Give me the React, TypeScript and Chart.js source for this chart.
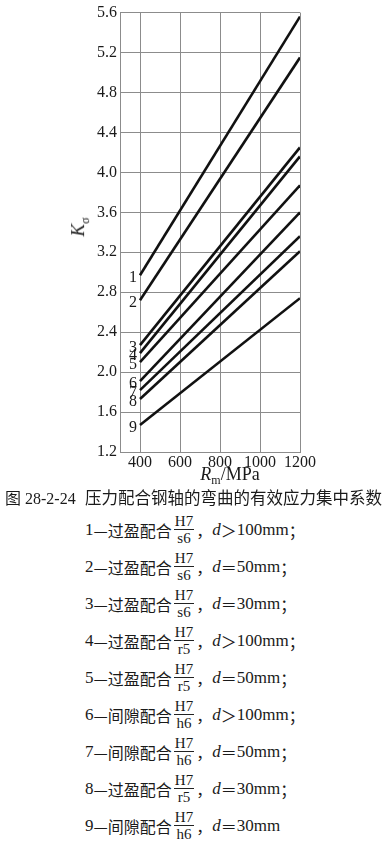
import React, { useEffect, useRef } from "react";
import { Chart, registerables } from "chart.js";

Chart.register(...registerables);

// ---- data ----
const strengths = [400, 1200]; // Rm / MPa
const curveLabels = ["1", "2", "3", "4", "5", "6", "7", "8", "9"];
const curve1 = [2.97, 5.56];
const curve2 = [2.72, 5.15];
const curve3 = [2.27, 4.25];
const curve4 = [2.19, 4.16];
const curve5 = [2.10, 3.87];
const curve6 = [1.91, 3.60];
const curve7 = [1.82, 3.36];
const curve8 = [1.73, 3.21];
const curve9 = [1.47, 2.74];
const curves = [curve1, curve2, curve3, curve4, curve5, curve6, curve7, curve8, curve9];

const xTicks = [400, 600, 800, 1000, 1200];
const yTicks = [1.2, 1.6, 2.0, 2.4, 2.8, 3.2, 3.6, 4.0, 4.4, 4.8, 5.2, 5.6];

const figureNo = "图 28-2-24";
const figureTitle = "压力配合钢轴的弯曲的有效应力集中系数";
const fitKinds = ["过盈配合", "过盈配合", "过盈配合", "过盈配合", "过盈配合", "间隙配合", "间隙配合", "过盈配合", "间隙配合"];
const holeTolerance = "H7";
const shaftTolerances = ["s6", "s6", "s6", "r5", "r5", "h6", "h6", "r5", "h6"];
const diameterRelations = ["＞", "＝", "＝", "＞", "＝", "＞", "＝", "＝", "＝"];
const diameters = [100, 50, 30, 100, 50, 100, 50, 30, 30];

const SERIF = '"Liberation Serif", "DejaVu Serif", serif';
const CJK = '"Liberation Serif", "Noto Sans CJK SC", serif';
const CJK_ONLY = '"Noto Sans CJK SC"';

const curveLabelPlugin = {
  id: "curveLabels",
  afterDatasetsDraw(chart: any) {
    const { ctx, scales } = chart;
    ctx.save();
    ctx.font = `16px ${SERIF}`;
    ctx.fillStyle = "#1a1a1a";
    ctx.textAlign = "right";
    ctx.textBaseline = "middle";
    curves.forEach((c, i) => {
      const x = scales.x.getPixelForValue(strengths[0]) - 3;
      const y = scales.y.getPixelForValue(c[0]) + 3;
      ctx.fillText(curveLabels[i], x, y);
    });
    ctx.restore();
  },
};

function ChartCanvas() {
  const ref = useRef<HTMLCanvasElement | null>(null);
  useEffect(() => {
    if (!ref.current) return;
    const chart = new Chart(ref.current, {
      type: "line",
      data: {
        datasets: curves.map((c, i) => ({
          label: curveLabels[i],
          data: strengths.map((x, j) => ({ x, y: c[j] })),
          borderColor: "#111",
          borderWidth: 2.6,
          pointRadius: 0,
          tension: 0,
          fill: false,
        })),
      },
      options: {
        animation: false,
        responsive: true,
        maintainAspectRatio: false,
        layout: { padding: { top: 12, right: 86, left: 0, bottom: 0 } },
        plugins: { legend: { display: false }, tooltip: { enabled: false }, title: { display: false } },
        scales: {
          x: {
            type: "linear",
            min: 300,
            max: 1200,
            afterBuildTicks: (s: any) => {
              s.ticks = xTicks.map((v) => ({ value: v }));
            },
            afterFit: (s: any) => {
              s.height = 38;
            },
            grid: { color: "#8c8c8c", lineWidth: 1, drawTicks: false },
            border: { display: true, color: "#8c8c8c", width: 1 },
            ticks: {
              font: { family: SERIF, size: 16 },
              color: "#1a1a1a",
              padding: 1,
              maxRotation: 0,
              autoSkip: false,
              callback: (v: any) => String(v),
            },
          },
          y: {
            type: "linear",
            min: 1.2,
            max: 5.6,
            afterBuildTicks: (s: any) => {
              s.ticks = yTicks.map((v) => ({ value: v }));
            },
            afterFit: (s: any) => {
              s.width = 120;
            },
            grid: { color: "#8c8c8c", lineWidth: 1, drawTicks: false },
            border: { display: true, color: "#8c8c8c", width: 1 },
            ticks: {
              font: { family: SERIF, size: 16 },
              color: "#1a1a1a",
              padding: 3,
              autoSkip: false,
              callback: (v: any) => Number(v).toFixed(1),
            },
          },
        },
      },
      plugins: [curveLabelPlugin],
    } as any);
    return () => chart.destroy();
  }, []);
  return <canvas ref={ref} />;
}

function Fraction({ top, bottom }: { top: string; bottom: string }) {
  return (
    <span
      style={{
        display: "inline-flex",
        flexDirection: "column",
        alignItems: "center",
        fontFamily: SERIF,
        fontSize: 15,
        lineHeight: "16px",
        margin: "0 2px",
      }}
    >
      <span style={{ padding: "0 1px" }}>{top}</span>
      <span style={{ width: "100%", borderTop: "1px solid #222" }} />
      <span>{bottom}</span>
    </span>
  );
}

export default function App() {
  return (
    <div
      style={{
        position: "absolute",
        left: 0,
        top: 0,
        width: 386,
        height: 850,
        background: "#fff",
        color: "#1a1a1a",
        overflow: "hidden",
      }}
    >
      <div style={{ position: "absolute", left: 0, top: 0, width: 386, height: 490 }}>
        <ChartCanvas />
      </div>
      {/* y axis title */}
      <div
        style={{
          position: "absolute",
          left: 80,
          top: 227,
          transform: "translate(-50%, -50%) rotate(-90deg)",
          fontFamily: SERIF,
          fontSize: 19,
          whiteSpace: "nowrap",
        }}
      >
        <i>K</i>
        <sub style={{ fontSize: 12 }}>σ</sub>
      </div>
      {/* x axis title */}
      <div
        style={{
          position: "absolute",
          left: 230,
          top: 476,
          transform: "translate(-50%, -50%)",
          fontFamily: SERIF,
          fontSize: 18,
          whiteSpace: "nowrap",
        }}
      >
        <i>R</i>
        <sub style={{ fontSize: 12 }}>m</sub>/MPa
      </div>
      {/* caption */}
      <div
        style={{
          position: "absolute",
          left: 5,
          top: 487,
          height: 20,
          display: "flex",
          alignItems: "center",
          fontFamily: CJK,
          fontSize: 16.5,
          whiteSpace: "nowrap",
        }}
      >
        <span style={{ width: 80, flexShrink: 0, fontSize: 16 }}>{figureNo}</span>
        <span>{figureTitle}</span>
      </div>
      <div style={{ position: "absolute", left: 85, top: 511, fontFamily: CJK, fontSize: 16 }}>
        {curveLabels.map((n, i) => (
          <div key={n} style={{ height: 37, display: "flex", alignItems: "center", whiteSpace: "nowrap" }}>
            <span style={{ fontFamily: SERIF, fontSize: 17 }}>{n}</span>
            <span style={{ fontFamily: CJK_ONLY }}>—</span>
            <span style={{ fontFamily: CJK_ONLY }}>{fitKinds[i]}</span>
            <Fraction top={holeTolerance} bottom={shaftTolerances[i]} />
            <span style={{ fontFamily: CJK_ONLY }}>，</span>
            <i style={{ fontFamily: SERIF, fontSize: 17 }}>d</i>
            <span style={{ fontFamily: CJK_ONLY }}>{diameterRelations[i]}</span>
            <span style={{ fontFamily: SERIF, fontSize: 17 }}>{diameters[i]}mm</span>
            {i < curveLabels.length - 1 && <span style={{ fontFamily: CJK_ONLY }}>；</span>}
          </div>
        ))}
      </div>
    </div>
  );
}
